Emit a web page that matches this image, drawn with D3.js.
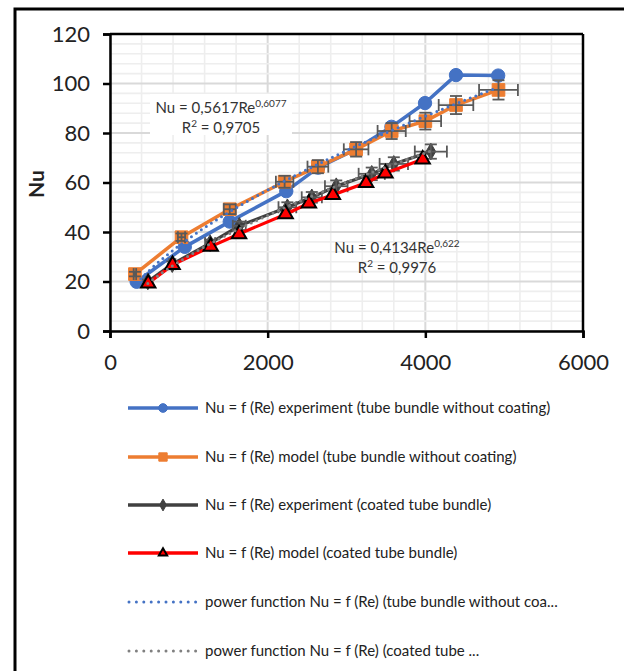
<!DOCTYPE html>
<html><head><meta charset="utf-8">
<script src="https://cdn.jsdelivr.net/npm/d3@7"></script>
<style>body{margin:0;background:#fff} svg{display:block}</style>
</head><body><svg id="c" width="624" height="671"></svg>
<script>
// ---- data ----
const bareExpRe = [338, 949, 1519, 2236, 2640, 3122, 3570, 3996, 4389, 4924];
const bareExpNu = [19.9, 34.0, 44.2, 56.5, 66.0, 73.5, 82.5, 92.1, 103.4, 103.2];
const bareModRe = [316, 907, 1519, 2215, 2637, 3122, 3573, 4000, 4389, 4928];
const bareModNu = [23.0, 37.9, 49.2, 60.3, 66.4, 73.4, 80.8, 84.8, 91.3, 97.4];
const coatExpRe = [480, 790, 1270, 1640, 2250, 2560, 2870, 3320, 3600, 4070];
const coatExpNu = [20.0, 27.0, 35.5, 42.5, 50.0, 54.0, 58.5, 63.5, 67.5, 72.5];
const coatModRe = [485, 794, 1278, 1637, 2228, 2523, 2827, 3249, 3494, 3966];
const coatModNu = [19.3, 26.7, 34.1, 39.2, 47.2, 51.6, 55.0, 59.9, 63.7, 69.4];
const fitBareA = 0.5617, fitBareB = 0.6077, fitBareR2 = "0,9705";
const fitCoatA = 0.4134, fitCoatB = 0.622,  fitCoatR2 = "0,9976";
const xTicks = [0, 2000, 4000, 6000];
const yTicks = [0, 20, 40, 60, 80, 100, 120];
const errX = 0.05, errY = 0.04;
const legendLabels = [
  "Nu = f (Re) experiment (tube bundle without coating)",
  "Nu = f (Re) model (tube bundle without coating)",
  "Nu = f (Re) experiment (coated tube bundle)",
  "Nu = f (Re) model (coated tube bundle)",
  "power function Nu = f (Re) (tube bundle without coa...",
  "power function Nu = f (Re) (coated tube ..."
];

// ---- setup ----
const svg = d3.select("#c");
const FONT = "Lato, 'Open Sans', sans-serif";
const L = 110, R = 583, T = 34, B = 331;
const x = d3.scaleLinear().domain([0, 6000]).range([L, R]);
const y = d3.scaleLinear().domain([0, 120]).range([B, T]);

// outer frame
svg.append("rect").attr("x", 15).attr("y", 9).attr("width", 640).attr("height", 700)
  .attr("fill", "#fff").attr("stroke", "#000").attr("stroke-width", 3);

// gridlines
const g = svg.append("g");
d3.range(0, 6001, 400).forEach(v => {
  const major = v % 2000 === 0;
  g.append("line").attr("x1", x(v)).attr("x2", x(v)).attr("y1", T).attr("y2", B)
    .attr("stroke", major ? "#d9d9d9" : "#eeeeee").attr("stroke-width", major ? 2 : 1.6);
});
d3.range(0, 121, 4).forEach(v => {
  const major = v % 20 === 0;
  g.append("line").attr("x1", L).attr("x2", R).attr("y1", y(v)).attr("y2", y(v))
    .attr("stroke", major ? "#d9d9d9" : "#eeeeee").attr("stroke-width", major ? 2 : 1.6);
});

// plot border top/right
svg.append("line").attr("x1", L).attr("x2", R).attr("y1", T).attr("y2", T).attr("stroke", "#000").attr("stroke-width", 2.5);
svg.append("line").attr("x1", R).attr("x2", R).attr("y1", T).attr("y2", B).attr("stroke", "#000").attr("stroke-width", 2.5);

// axes
const xAxis = d3.axisBottom(x).tickValues(xTicks).tickSize(7).tickPadding(13).tickFormat(d3.format("d"));
const yAxis = d3.axisLeft(y).tickValues(yTicks).tickSize(7).tickPadding(13).tickFormat(d3.format("d"));
const gx = svg.append("g").attr("transform", `translate(0,${B})`).call(xAxis);
const gy = svg.append("g").attr("transform", `translate(${L},0)`).call(yAxis);
[gx, gy].forEach(a => {
  a.select(".domain").attr("stroke", "#000").attr("stroke-width", 2.5);
  a.selectAll(".tick line").attr("stroke", "#000").attr("stroke-width", 2.5);
  a.selectAll(".tick text").attr("font-family", FONT).attr("font-size", 22).attr("fill", "#222");
});
gx.selectAll(".tick text").attr("dy", "0.35em").attr("y", 31);
gy.selectAll(".tick text").attr("x", -20);

// y label
svg.append("text").attr("transform", "translate(44,184) rotate(-90)").attr("text-anchor", "middle")
  .attr("font-family", FONT).attr("font-weight", "bold").attr("font-size", 21).attr("fill", "#222").text("Nu");

// series helpers
const pts = (xs, ys) => xs.map((d, i) => [d, ys[i]]);
const line = d3.line().x(d => x(d[0])).y(d => y(d[1]));
const plot = svg.append("g");

const sBareExp = pts(bareExpRe, bareExpNu);
const sBareMod = pts(bareModRe, bareModNu);
const sCoatExp = pts(coatExpRe, coatExpNu);
const sCoatMod = pts(coatModRe, coatModNu);

function errorBars(data, color) {
  const eg = plot.append("g").attr("stroke", color).attr("stroke-width", 1.8).attr("fill", "none");
  const cap = 6;
  data.forEach(([re, nu]) => {
    const x0 = x(re * (1 - errX)), x1 = x(re * (1 + errX)), yc = y(nu);
    const y0 = y(nu * (1 - errY)), y1 = y(nu * (1 + errY)), xc = x(re);
    eg.append("line").attr("x1", x0).attr("x2", x1).attr("y1", yc).attr("y2", yc);
    eg.append("line").attr("x1", x0).attr("x2", x0).attr("y1", yc - cap).attr("y2", yc + cap);
    eg.append("line").attr("x1", x1).attr("x2", x1).attr("y1", yc - cap).attr("y2", yc + cap);
    eg.append("line").attr("x1", xc).attr("x2", xc).attr("y1", y0).attr("y2", y1);
    eg.append("line").attr("x1", xc - cap).attr("x2", xc + cap).attr("y1", y0).attr("y2", y0);
    eg.append("line").attr("x1", xc - cap).attr("x2", xc + cap).attr("y1", y1).attr("y2", y1);
  });
}

const symCircle = d3.symbol().type(d3.symbolCircle).size(140);
const symSquare = d3.symbol().type(d3.symbolSquare).size(160);
const symDiamond = d3.symbol().type(d3.symbolDiamond).size(80);
const symTriangle = d3.symbol().type(d3.symbolTriangle).size(90);

function series(data, color, width, sym, fill, stroke, sw) {
  plot.append("path").datum(data).attr("d", line).attr("fill", "none")
    .attr("stroke", color).attr("stroke-width", width).attr("stroke-linejoin", "round");
  plot.append("g").selectAll("path").data(data).join("path")
    .attr("transform", d => `translate(${x(d[0])},${y(d[1])})`).attr("d", sym)
    .attr("fill", fill).attr("stroke", stroke).attr("stroke-width", sw);
}

series(sBareExp, "#4472C4", 3.5, symCircle, "#4472C4", "#4472C4", 1);
series(sBareMod, "#ED7D31", 3.5, symSquare, "#ED7D31", "#ED7D31", 1);
errorBars(sBareMod, "#595959");
series(sCoatExp, "#404040", 3.2, symDiamond, "#404040", "#404040", 1);
errorBars(sCoatExp, "#595959");
series(sCoatMod, "#FF0000", 3.2, symTriangle, "#FF0000", "#000", 2);

// trend lines
function trend(a, b, lo, hi, color) {
  const n = 60;
  const data = d3.range(n + 1).map(i => { const re = lo + (hi - lo) * i / n; return [re, a * Math.pow(re, b)]; });
  plot.append("path").datum(data).attr("d", line).attr("fill", "none")
    .attr("stroke", color).attr("stroke-width", 3).attr("stroke-dasharray", "0 6").attr("stroke-linecap", "round");
}
trend(fitBareA, fitBareB, d3.min(bareExpRe), d3.max(bareExpRe), "#4472C4");
trend(fitCoatA, fitCoatB, d3.min(coatExpRe), d3.max(coatExpRe), "#808080");

// equation labels
function eqLabel(cx, cy, a, b, r2, box) {
  const eg = svg.append("g");
  const aStr = String(a).replace(".", ","), bStr = String(b).replace(".", ",");
  if (box) eg.append("rect").attr("x", box[0]).attr("y", box[1]).attr("width", box[2]).attr("height", box[3]).attr("fill", "#fff");
  const t1 = eg.append("text").attr("x", cx).attr("y", cy).attr("text-anchor", "middle")
    .attr("font-family", FONT).attr("font-size", 15).attr("fill", "#333");
  t1.append("tspan").text(`Nu = ${aStr}Re`);
  t1.append("tspan").attr("dy", -6).attr("font-size", 10).text(bStr);
  const t2 = eg.append("text").attr("x", cx).attr("y", cy + 20).attr("text-anchor", "middle")
    .attr("font-family", FONT).attr("font-size", 15).attr("fill", "#333");
  t2.append("tspan").text("R");
  t2.append("tspan").attr("dy", -6).attr("font-size", 10).text("2");
  t2.append("tspan").attr("dy", 6).text(` = ${r2}`);
}
eqLabel(221, 113, fitBareA, fitBareB, fitBareR2, [150, 94, 142, 41]);
eqLabel(397, 253, fitCoatA, fitCoatB, fitCoatR2, null);

// legend
const lg = svg.append("g");
const legY = [408, 457, 505, 553, 602, 651];
const legStyles = [
  {c: "#4472C4", sym: d3.symbol().type(d3.symbolCircle).size(60), fill: "#4472C4", st: "#4472C4", sw: 1},
  {c: "#ED7D31", sym: d3.symbol().type(d3.symbolSquare).size(70), fill: "#ED7D31", st: "#ED7D31", sw: 1},
  {c: "#404040", sym: d3.symbol().type(d3.symbolDiamond).size(40), fill: "#404040", st: "#404040", sw: 1},
  {c: "#FF0000", sym: d3.symbol().type(d3.symbolTriangle).size(30), fill: "#FF0000", st: "#000", sw: 2},
  {c: "#4472C4", dot: true},
  {c: "#808080", dot: true}
];
legendLabels.forEach((lab, i) => {
  const s = legStyles[i], yy = legY[i];
  if (s.dot) {
    lg.append("line").attr("x1", 129).attr("x2", 196).attr("y1", yy).attr("y2", yy)
      .attr("stroke", s.c).attr("stroke-width", 3).attr("stroke-dasharray", "0 7.4").attr("stroke-linecap", "round");
  } else {
    lg.append("line").attr("x1", 128).attr("x2", 198).attr("y1", yy).attr("y2", yy)
      .attr("stroke", s.c).attr("stroke-width", 3.5);
    lg.append("path").attr("transform", `translate(163,${yy})`).attr("d", s.sym)
      .attr("fill", s.fill).attr("stroke", s.st).attr("stroke-width", s.sw);
  }
  lg.append("text").attr("x", 205).attr("y", yy).attr("dy", "0.35em")
    .attr("font-family", FONT).attr("font-size", 15).attr("fill", "#222").text(lab);
});
</script></body></html>
